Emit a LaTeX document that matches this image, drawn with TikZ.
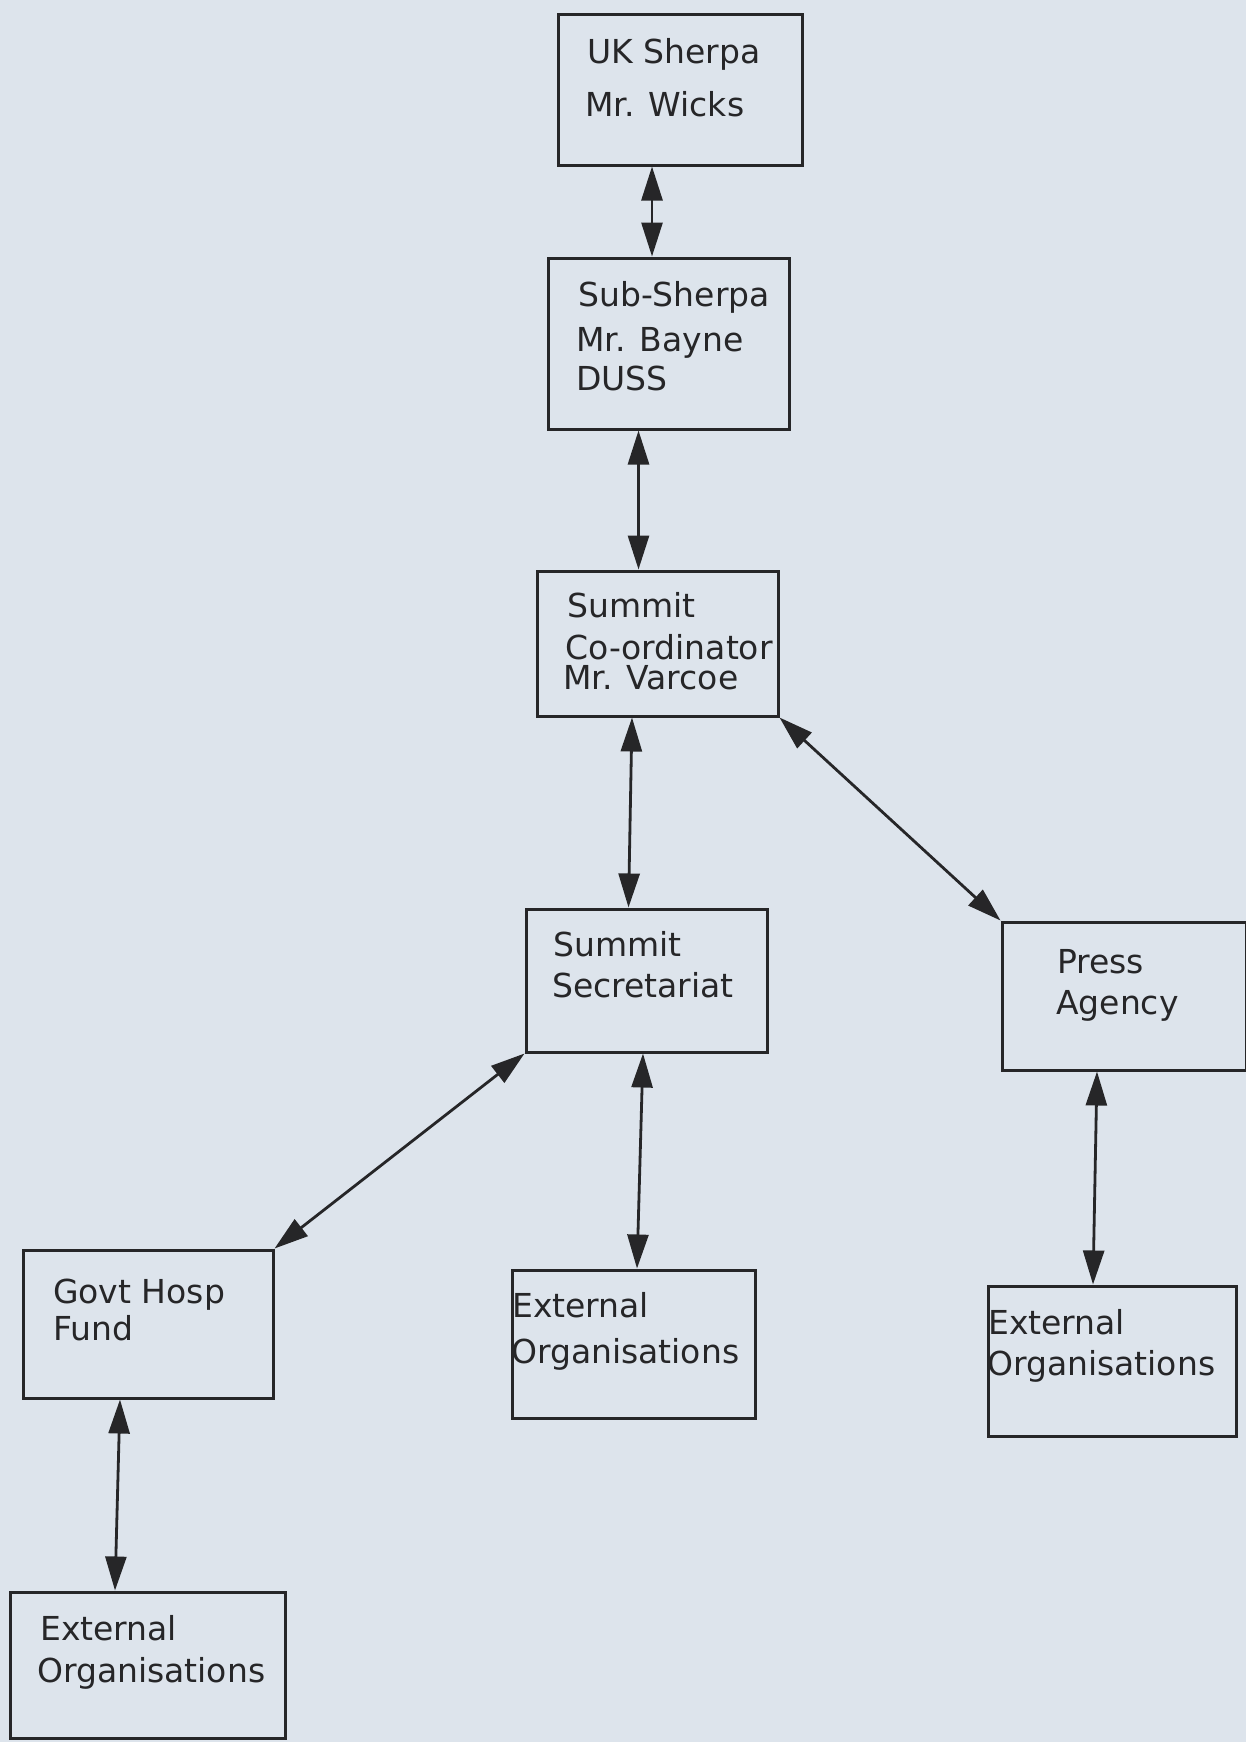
\documentclass[tikz,border=0pt]{standalone}
\usepackage{fontspec}
\setmainfont{DejaVu Sans}
\usetikzlibrary{arrows.meta}
\definecolor{paper}{RGB}{221,228,236}
\definecolor{ink}{RGB}{38,38,40}
\tikzset{
  orgbox/.style={draw=ink, line width=3pt, rectangle, inner sep=0pt},
  lbl/.style={anchor=base west, inner sep=0pt, text=ink, font=\fontsize{33}{40}\selectfont},
  link/.style={draw=ink, line width=2.8pt, {Triangle[length=34pt,width=21pt]}-{Triangle[length=34pt,width=21pt]}}
}
\begin{document}
\begin{tikzpicture}[x=1pt, y=-1pt]
\fill[paper] (0,0) rectangle (1246,1742);
\useasboundingbox (0,0) rectangle (1246,1742);

% boxes
\node[orgbox, minimum width=244pt, minimum height=150pt] (uk) at (680,90) {};
\node[orgbox, minimum width=241pt, minimum height=171pt] (sub) at (668.5,343.5) {};
\node[orgbox, minimum width=241pt, minimum height=145pt] (coord) at (657.5,643.5) {};
\node[orgbox, minimum width=241pt, minimum height=143pt] (secr) at (646.5,980.5) {};
\node[orgbox, minimum width=244pt, minimum height=148pt] (press) at (1124,996) {};
\node[orgbox, minimum width=248pt, minimum height=150pt] (extR) at (1112,1361) {};
\node[orgbox, minimum width=243pt, minimum height=148pt] (extM) at (633.5,1344) {};
\node[orgbox, minimum width=250pt, minimum height=148pt] (govt) at (148,1324) {};
\node[orgbox, minimum width=275pt, minimum height=146pt] (extL) at (147.5,1665) {};

% texts
\node[lbl] (uk1) at (587,64) {UK Sherpa};
\node[lbl] (uk2) at (585,117) {Mr. Wicks};
\node[lbl] (sub1) at (578,306) {Sub-Sherpa};
\node[lbl] (sub2) at (576,351) {Mr. Bayne};
\node[lbl] (sub3) at (576,390) {DUSS};
\node[lbl] (co1) at (567,617) {Summit};
\node[lbl] (co2) at (565,659) {Co-ordinator};
\node[lbl] (co3) at (563,689) {Mr. Varcoe};
\node[lbl] (se1) at (553,956) {Summit};
\node[lbl] (se2) at (552,997) {Secretariat};
\node[lbl] (pr1) at (1057,973) {Press};
\node[lbl] (pr2) at (1056,1014) {Agency};
\node[lbl] (er1) at (988,1334) {External};
\node[lbl] (er2) at (987,1375) {Organisations};
\node[lbl] (em1) at (512,1317) {External};
\node[lbl] (em2) at (511,1363) {Organisations};
\node[lbl] (go1) at (53,1303) {Govt Hosp};
\node[lbl] (go2) at (53,1340) {Fund};
\node[lbl] (el1) at (40,1640) {External};
\node[lbl] (el2) at (37,1682) {Organisations};

% connectors
\draw[link] ([xshift=-28pt]uk.south) -- ([xshift=-16.5pt]sub.north);
\draw[link] ([xshift=-30pt]sub.south) -- ([xshift=-19pt]coord.north);
\draw[link] ([xshift=-25.5pt]coord.south) -- ([xshift=-18pt]secr.north);
\draw[link] (coord.south east) -- (press.north west);
\draw[link] (secr.south west) -- (govt.north east);
\draw[link] ([xshift=-3.5pt]secr.south) -- ([xshift=3.5pt]extM.north);
\draw[link] ([xshift=-27pt]press.south) -- ([xshift=-19pt]extR.north);
\draw[link] ([xshift=-28pt]govt.south) -- ([xshift=-32.5pt]extL.north);
\end{tikzpicture}
\end{document}
